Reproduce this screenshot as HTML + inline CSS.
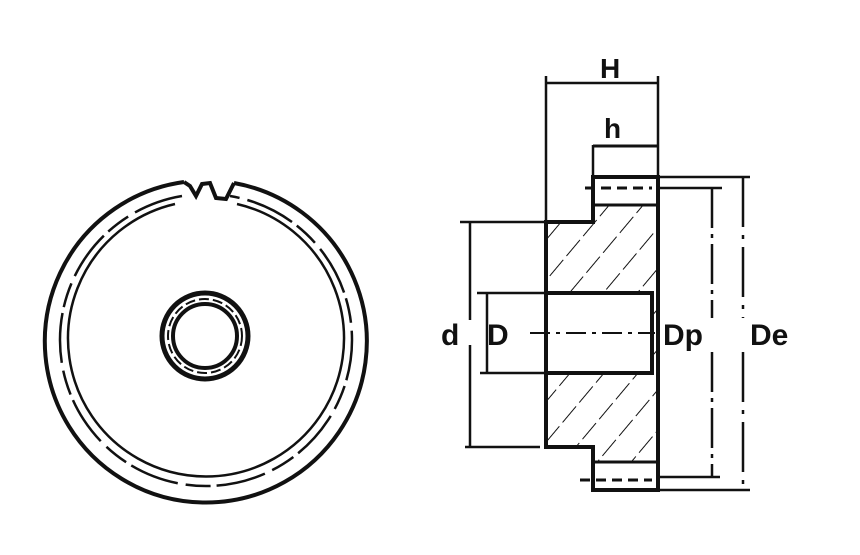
<!DOCTYPE html>
<html><head><style>
html,body{margin:0;padding:0;background:#fff;}
svg{display:block;}
text{font-family:"Liberation Sans",sans-serif;font-weight:bold;fill:#111;}
</style></head><body>
<svg width="860" height="555" viewBox="0 0 860 555" xmlns="http://www.w3.org/2000/svg">
<defs>
<pattern id="h" patternUnits="userSpaceOnUse" width="26" height="26" patternTransform="rotate(40)">
<line x1="0" y1="0" x2="0" y2="26" stroke="#111" stroke-width="2" stroke-dasharray="14 5"/>
</pattern>
</defs>
<g fill="none" stroke="#111">
<!-- left view -->
<path d="M184 182 A161 161 0 1 0 234 183" stroke-width="4"/>
<path d="M184 182 L190 186 L196 196 L202 184 L210 183 L216 198 L226 199 L234 183" stroke-width="4"/>
<path d="M182 196 A146 146 0 1 0 230 196" stroke-width="2.5" stroke-dasharray="50 8 25 6"/>
<path d="M175 204 A138 138 0 1 0 237 204" stroke-width="2.5"/>
<circle cx="205" cy="336" r="43" stroke-width="5"/>
<circle cx="205" cy="336" r="37" stroke-width="2" stroke-dasharray="10 4"/>
<circle cx="205" cy="336" r="32" stroke-width="4"/>
<!-- right view hatched -->
<path d="M546 222 H593 V177 H658 V490 H593 V447 H546 Z" fill="url(#h)" stroke="none"/>
<rect x="594" y="178" width="63" height="28" fill="#fff" stroke="none"/>
<rect x="594" y="462" width="63" height="27" fill="#fff" stroke="none"/>
<rect x="548" y="293" width="104" height="80" fill="#fff" stroke="none"/>
<path d="M546 222 H593 V177 H658 V490 H593 V447 H546 Z" stroke-width="4"/>
<line x1="593" y1="205" x2="658" y2="205" stroke-width="3"/>
<line x1="593" y1="462" x2="658" y2="462" stroke-width="3"/>
<line x1="585" y1="188" x2="652" y2="188" stroke-width="3" stroke-dasharray="10 6"/>
<line x1="580" y1="480" x2="652" y2="480" stroke-width="3" stroke-dasharray="10 6"/>
<path d="M546 293 H652 V373 H546" stroke-width="4"/>
<line x1="530" y1="333" x2="655" y2="333" stroke-width="2" stroke-dasharray="20 6 4 6"/>
<!-- H -->
<line x1="546" y1="76" x2="546" y2="222" stroke-width="2.5"/>
<line x1="658" y1="76" x2="658" y2="177" stroke-width="2.5"/>
<line x1="546" y1="83" x2="658" y2="83" stroke-width="2.5"/>
<!-- h -->
<line x1="593" y1="145" x2="593" y2="177" stroke-width="2.5"/>
<line x1="593" y1="146" x2="658" y2="146" stroke-width="3"/>
<!-- d -->
<line x1="460" y1="222" x2="546" y2="222" stroke-width="2.5"/>
<line x1="465" y1="447" x2="540" y2="447" stroke-width="2.5"/>
<line x1="470" y1="222" x2="470" y2="320" stroke-width="2.5"/>
<line x1="470" y1="345" x2="470" y2="447" stroke-width="2.5"/>
<!-- D -->
<line x1="477" y1="293" x2="546" y2="293" stroke-width="2.5"/>
<line x1="480" y1="373" x2="546" y2="373" stroke-width="2.5"/>
<line x1="487" y1="293" x2="487" y2="373" stroke-width="2.5"/>
<!-- Dp -->
<line x1="658" y1="188" x2="722" y2="188" stroke-width="2.5"/>
<line x1="658" y1="477" x2="720" y2="477" stroke-width="2.5"/>
<line x1="712" y1="188" x2="712" y2="318" stroke-width="2.5" stroke-dasharray="40 6 4 6"/>
<line x1="712" y1="352" x2="712" y2="477" stroke-width="2.5" stroke-dasharray="40 6 4 6"/>
<!-- De -->
<line x1="658" y1="177" x2="750" y2="177" stroke-width="2.5"/>
<line x1="658" y1="490" x2="750" y2="490" stroke-width="2.5"/>
<line x1="743" y1="177" x2="743" y2="318" stroke-width="2.5" stroke-dasharray="50 8 4 8"/>
<line x1="743" y1="352" x2="743" y2="490" stroke-width="2.5" stroke-dasharray="50 8 4 8"/>
</g>
<text x="600" y="78" font-size="28">H</text>
<text x="604" y="138" font-size="28">h</text>
<text x="441" y="345" font-size="30">d</text>
<text x="487" y="345" font-size="30">D</text>
<text x="663" y="345" font-size="30">Dp</text>
<text x="750" y="345" font-size="30">De</text>
</svg>
</body></html>
